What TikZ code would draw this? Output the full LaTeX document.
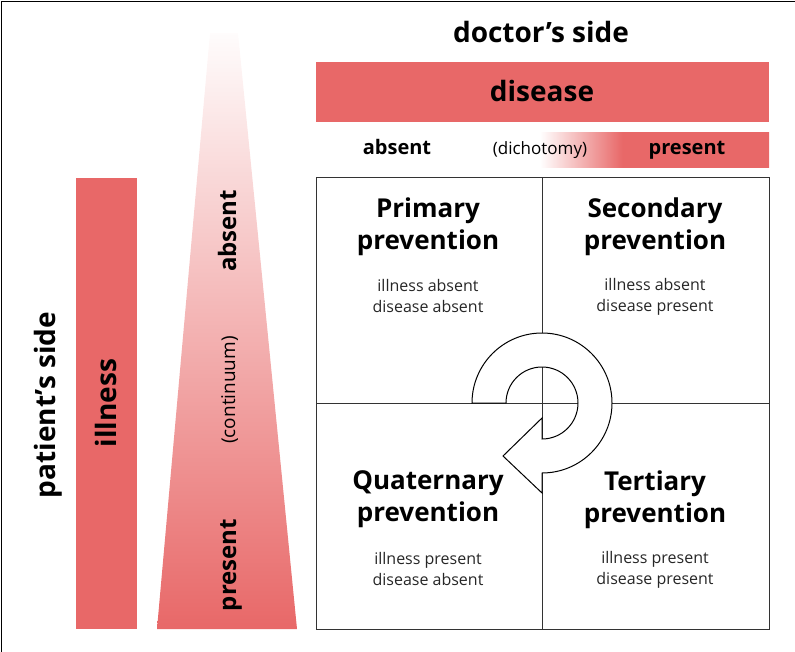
\documentclass[tikz,border=0pt]{standalone}
\usepackage{fontspec}
\setmainfont{Open Sans}
\definecolor{mRed}{RGB}{232,104,104}
\usetikzlibrary{positioning}
\pgfdeclarehorizontalshading{presentfade}{100bp}{color(0bp)=(white); color(25bp)=(white); color(43bp)=(mRed); color(100bp)=(mRed)}

\begin{document}
\begin{tikzpicture}[x=1pt, y=-1pt,
    big/.style={font=\fontsize{28}{30}\selectfont\bfseries, inner sep=0pt},
    mid/.style={font=\fontsize{20}{22}\selectfont\bfseries, inner sep=0pt},
    thin/.style={font=\fontsize{17}{20}\selectfont, inner sep=0pt},
    qtitle/.style={font=\fontsize{26}{32}\selectfont\bfseries, align=center, inner sep=0pt},
    qsub/.style={font=\fontsize{16}{21}\selectfont, align=center, inner sep=0pt, text=black!85},
    gridline/.style={draw=black!80, line width=1pt}]
  \useasboundingbox (0,0) rectangle (795,652);
  % Frame
  \draw[line width=1.2pt] (1.5,652) -- (1.5,1.5) -- (795,1.5);

  % Doctor's side
  \node[big, anchor=base] (doctor) at (541,43) {doctor’s side};
  \fill[mRed] (316,62) rectangle (769,122);
  \node[big, anchor=base] (disease) at (542,102) {disease};
  \shade[shading=presentfade] (540,133) rectangle (769,168);
  \node[mid, anchor=base] (dabsent) at (397,155) {absent};
  \node[thin, anchor=base] (dicho) at (540,155) {(dichotomy)};
  \node[mid, anchor=base] (dpresent) at (687,155) {present};

  % Patient's side
  \node[big, rotate=90, anchor=base] (patient) at (55,405) {patient’s side};
  \fill[mRed] (76,178) rectangle (137,629);
  \node[big, rotate=90, anchor=base] (illness) at (116,403) {illness};
  \shade[top color=mRed!2, bottom color=mRed] (210,33) -- (238,33) -- (297,629) -- (157,629) -- cycle;
  \node[mid, font=\fontsize{24}{26}\selectfont\bfseries, rotate=90, anchor=base] (iabsent) at (236,231) {absent};
  \node[thin, font=\fontsize{19}{21}\selectfont, rotate=90, anchor=base] (conti) at (235,390) {(continuum)};
  \node[mid, font=\fontsize{24}{26}\selectfont\bfseries, rotate=90, anchor=base] (ipresent) at (236,565) {present};

  % Grid
  \draw[gridline] (316,178) rectangle (769,629);
  \draw[gridline] (542,178) -- (542,629);
  \draw[gridline] (316,403) -- (769,403);

  % Cycle arrow
  \draw[fill=white, line width=1pt, line join=miter]
    (472,403) arc[start angle=180, end angle=450, radius=70]
    -- (542,493) -- (503,456) -- (542,418) -- (542,439)
    arc[start angle=450, end angle=180, radius=36] -- cycle;

  % Quadrants
  \node[qtitle] (prim) at (428,226.5) {Primary\\prevention};
  \node[qsub] (primtxt) at (428,296) {illness absent\\disease absent};
  \node[qtitle] (sec) at (655,226.5) {Secondary\\prevention};
  \node[qsub] (sectxt) at (655,297) {illness absent\\disease present};
  \node[qtitle] (quat) at (428,499.5) {Quaternary\\prevention};
  \node[qsub] (quattxt) at (428,569) {illness present\\disease absent};
  \node[qtitle] (tert) at (655,499.5) {Tertiary\\prevention};
  \node[qsub] (terttxt) at (655,570) {illness present\\disease present};
\end{tikzpicture}
\end{document}
